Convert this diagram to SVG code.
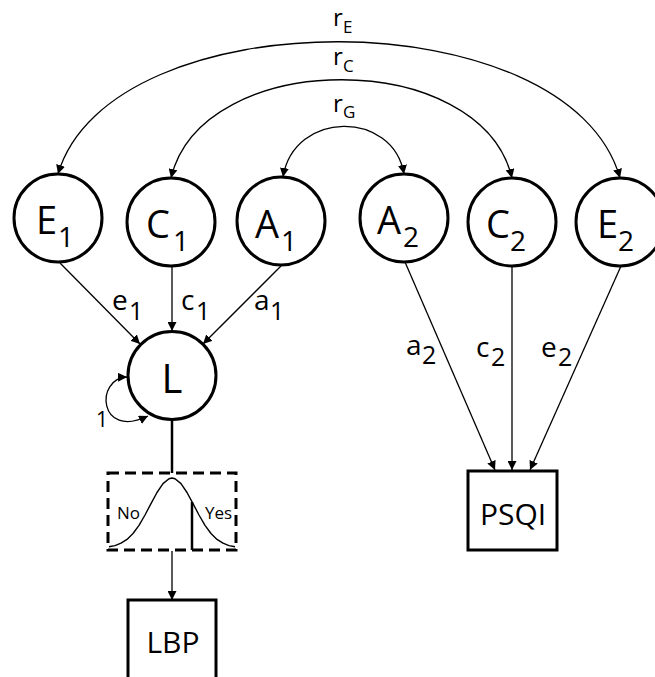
<svg xmlns="http://www.w3.org/2000/svg" width="655" height="677" viewBox="0 0 655 677">
<defs>
<marker id="ah" viewBox="0 0 10 10" refX="10" refY="5" markerWidth="9" markerHeight="9" markerUnits="userSpaceOnUse" orient="auto-start-reverse">
<path d="M0 0 L10 5 L0 10 Z" fill="#000"/>
</marker>
<style>
text{font-family:"Open Sans","Noto Sans",sans-serif;fill:#000}
.node{fill:#fff;stroke:#000;stroke-width:3}
.big{font-size:38px}
.sub{font-size:28px}
.el{font-size:28px}
.esub{font-size:25px}
.rl{font-size:24px}
.rsub{font-size:17px}
.conn{fill:none;stroke:#000;stroke-width:1.3}
</style>
</defs>
<rect width="655" height="677" fill="#fff"/>
<g id="connectors">
<path class="conn" d="M58 174 C110 -3 569 -3 620 178" marker-start="url(#ah)" marker-end="url(#ah)"/>
<path class="conn" d="M171 178 C202 47 481 47 512 178" marker-start="url(#ah)" marker-end="url(#ah)"/>
<path class="conn" d="M283 177 C294 110 393 110 404 174" marker-start="url(#ah)" marker-end="url(#ah)"/>
<line class="conn" x1="60" y1="263" x2="140" y2="344" marker-end="url(#ah)"/>
<line class="conn" x1="172" y1="267" x2="172" y2="331" marker-end="url(#ah)"/>
<line class="conn" x1="281" y1="266" x2="203" y2="344" marker-end="url(#ah)"/>
<line class="conn" x1="405" y1="262" x2="495" y2="470" marker-end="url(#ah)"/>
<line class="conn" x1="512" y1="267" x2="512" y2="470" marker-end="url(#ah)"/>
<line class="conn" x1="621" y1="266" x2="530" y2="470" marker-end="url(#ah)"/>
<path class="conn" d="M148 416 C98 440 95 378 127 377" marker-start="url(#ah)" marker-end="url(#ah)"/>
<line x1="172" y1="419" x2="172" y2="473" stroke="#000" stroke-width="2.5"/>
<line class="conn" x1="172" y1="551" x2="172" y2="600" marker-end="url(#ah)"/>
<text class="rl" x="333" y="26">r<tspan class="rsub" x="343" y="33">E</tspan></text>
<text class="rl" x="333" y="65">r<tspan class="rsub" x="343" y="72">C</tspan></text>
<text class="rl" x="333" y="112">r<tspan class="rsub" x="343" y="118">G</tspan></text>
<text class="el" x="112" y="310">e<tspan class="esub" x="129" y="320">1</tspan></text>
<text class="el" x="181" y="310">c<tspan class="esub" x="196" y="320">1</tspan></text>
<text class="el" x="254" y="310">a<tspan class="esub" x="270" y="320">1</tspan></text>
<text class="el" x="406" y="355">a<tspan class="esub" x="422" y="364">2</tspan></text>
<text class="el" x="476" y="357">c<tspan class="esub" x="491" y="366">2</tspan></text>
<text class="el" x="541" y="357">e<tspan class="esub" x="558" y="366">2</tspan></text>
<text x="96" y="427" font-size="21">1</text>
</g>
<g id="E1"><circle class="node" cx="58" cy="218" r="44"/><text class="big" x="36" y="234">E<tspan class="sub" x="58" y="247">1</tspan></text></g>
<g id="C1"><circle class="node" cx="171" cy="222" r="44"/><text class="big" x="146" y="238">C<tspan class="sub" x="173" y="251">1</tspan></text></g>
<g id="A1"><circle class="node" cx="281" cy="221" r="44"/><text class="big" x="255" y="238">A<tspan class="sub" x="281" y="251">1</tspan></text></g>
<g id="A2"><circle class="node" cx="404" cy="218" r="44"/><text class="big" x="377" y="234">A<tspan class="sub" x="403" y="247">2</tspan></text></g>
<g id="C2"><circle class="node" cx="512" cy="222" r="44"/><text class="big" x="486" y="238">C<tspan class="sub" x="510" y="251">2</tspan></text></g>
<g id="E2"><circle class="node" cx="620" cy="222" r="44"/><text class="big" x="597" y="238">E<tspan class="sub" x="618" y="251">2</tspan></text></g>
<g id="L"><circle class="node" cx="172" cy="375.5" r="44"/><text x="172" y="393" font-size="40" text-anchor="middle">L</text></g>
<g id="threshold">
<rect x="108" y="473" width="128" height="77" fill="none" stroke="#000" stroke-width="3" stroke-dasharray="11 6"/>
<polyline fill="none" stroke="#000" stroke-width="1.4" stroke-linejoin="round" points="109,546.8 115,545.6 121,543.2 127,539.4 133,533.5 139,525.3 145,515 151,503.6 157,492.5 163,483.6 169,478.7 172,478 175,478.7 181,483.6 187,492.5 193,503.6 199,515 205,525.3 211,533.5 217,539.4 223,543.2 229,545.6 235,546.8"/>
<line x1="192" y1="502" x2="192" y2="550" stroke="#000" stroke-width="2.5"/>
<text x="117" y="519" font-size="17">No</text>
<text x="205" y="519" font-size="17">Yes</text>
</g>
<g id="PSQI"><rect x="468" y="471" width="89" height="79" fill="#fff" stroke="#000" stroke-width="3"/><text x="513" y="525" font-size="30" text-anchor="middle">PSQI</text></g>
<g id="LBP"><rect x="128" y="600" width="88" height="90" fill="#fff" stroke="#000" stroke-width="3"/><text x="173" y="653" font-size="30" text-anchor="middle">LBP</text></g>
</svg>
